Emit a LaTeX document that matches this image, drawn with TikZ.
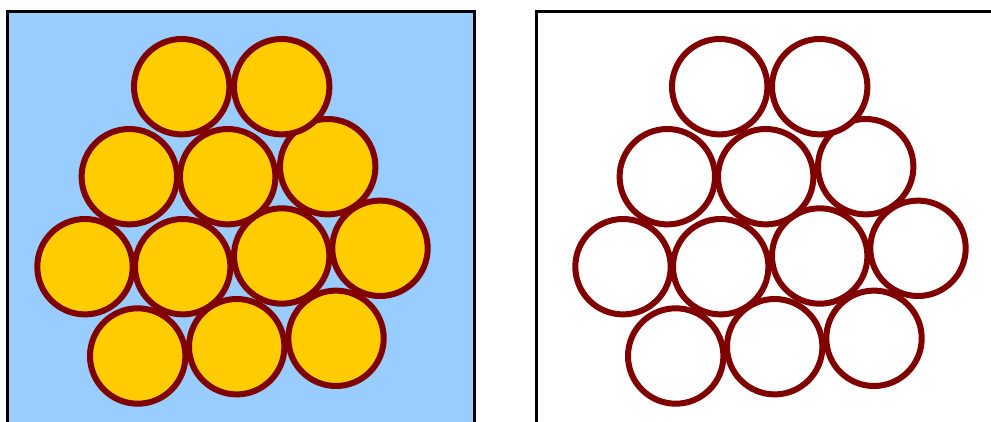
\documentclass[tikz,border=0pt]{standalone}
\usepackage{tikz}
\definecolor{cSky}{RGB}{153,204,255}
\definecolor{cGrain}{RGB}{255,204,0}
\definecolor{cRim}{RGB}{128,0,0}
\tikzset{
  panel/.style={draw=black, line width=3pt},
  grain/.style={circle, draw=cRim, line width=6pt, minimum size=95.4pt, inner sep=0pt},
}

\begin{document}
\begin{tikzpicture}[x=1pt, y=-1pt]

% ===== page frame =====
\useasboundingbox (0,0) rectangle (991,421);
\clip (0,0) rectangle (991,421);

% ===== panels =====
\draw[panel, fill=cSky] (7.3,11) rectangle (474.3,440);
\draw[panel, fill=white] (536,11) rectangle (1010,440);

% ===== packed grains (left: filled, right: outlines), bottom row first =====
\foreach \gx/\gy [count=\i] in {336/338.3, 236.7/346.7, 137.7/356,
    380/248.3, 281.7/256, 182.7/266.7, 85/266.7,
    327.7/166.7, 227.7/176.7, 129.3/176.7,
    281.7/86.7, 181.7/86.7}{
  \node[grain, fill=cGrain] (g\i) at (\gx,\gy) {};
  \node[grain, fill=white] (h\i) at (\gx+538,\gy) {};
}

\end{tikzpicture}
\end{document}
